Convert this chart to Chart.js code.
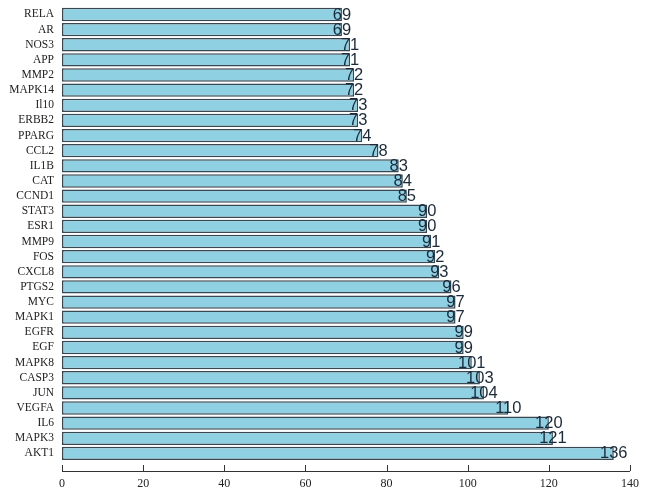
<!DOCTYPE html>
<html>
<head>
    <title>Gene Degree</title>
    <script src="https://cdn.jsdelivr.net/npm/chart.js"></script>
    <style>
        body { margin: 0; background: #fff; }
        #wrap { width: 646px; height: 498px; }
    </style>
</head>
<body>
    <div id="wrap"><canvas id="degreeChart"></canvas></div>
    <script>
        // genes, top to bottom as in the figure
        const genes = ['RELA', 'AR', 'NOS3', 'APP', 'MMP2', 'MAPK14', 'Il10', 'ERBB2', 'PPARG', 'CCL2',
            'IL1B', 'CAT', 'CCND1', 'STAT3', 'ESR1', 'MMP9', 'FOS', 'CXCL8', 'PTGS2', 'MYC',
            'MAPK1', 'EGFR', 'EGF', 'MAPK8', 'CASP3', 'JUN', 'VEGFA', 'IL6', 'MAPK3', 'AKT1'];
        const degree = [69, 69, 71, 71, 72, 72, 73, 73, 74, 78,
            83, 84, 85, 90, 90, 91, 92, 93, 96, 97,
            97, 99, 99, 101, 103, 104, 110, 120, 121, 136];
        const xMin = 0;
        const xMax = 140;
        const xStep = 20;

        // value labels centred on the end of each bar
        const valueLabels = {
            id: 'valueLabels',
            afterDatasetsDraw(chart) {
                const ctx = chart.ctx;
                const meta = chart.getDatasetMeta(0);
                ctx.save();
                ctx.font = '16.5px "Liberation Sans", Arial, sans-serif';
                ctx.fillStyle = '#1b2a38';
                ctx.textAlign = 'center';
                ctx.textBaseline = 'middle';
                meta.data.forEach((bar, i) => {
                    ctx.fillText(String(degree[i]), bar.x, bar.y + 0.5);
                });
                ctx.restore();
            }
        };

        // x axis line sits a little below the bars, ticks pointing up
        const axisLine = {
            id: 'axisLine',
            afterDraw(chart) {
                const ctx = chart.ctx;
                const area = chart.chartArea;
                const x = chart.scales.x;
                const y = area.bottom + 10;
                ctx.save();
                ctx.strokeStyle = '#333';
                ctx.lineWidth = 1;
                ctx.beginPath();
                ctx.moveTo(area.left, y + 0.5);
                ctx.lineTo(area.right, y + 0.5);
                x.ticks.forEach(t => {
                    const px = Math.round(x.getPixelForValue(t.value)) + 0.5;
                    ctx.moveTo(px, y);
                    ctx.lineTo(px, y - 6);
                });
                ctx.stroke();
                ctx.restore();
            }
        };

        const ctx = document.getElementById('degreeChart').getContext('2d');
        const myChart = new Chart(ctx, {
            type: 'bar',
            data: {
                labels: genes,
                datasets: [{
                    data: degree,
                    backgroundColor: '#8fd0e3',
                    borderColor: '#3a4650',
                    borderWidth: 1.5,
                    borderSkipped: false,
                    barPercentage: 0.88,
                    categoryPercentage: 1.0
                }]
            },
            options: {
                indexAxis: 'y',
                responsive: true,
                maintainAspectRatio: false,
                animation: false,
                layout: { padding: { top: 0, right: 16, left: 0, bottom: 0 } },
                plugins: {
                    legend: { display: false },
                    tooltip: { enabled: false }
                },
                scales: {
                    x: {
                        min: xMin,
                        max: xMax,
                        grid: { display: false, drawTicks: true, tickLength: 13 },
                        border: { display: false },
                        ticks: {
                            stepSize: xStep,
                            padding: 3,
                            color: '#222',
                            font: { family: '"Liberation Serif", "Times New Roman", serif', size: 12 }
                        },
                        afterFit(scale) { scale.height = 37; }
                    },
                    y: {
                        grid: { display: false, drawTicks: true, tickLength: 8 },
                        border: { display: false },
                        ticks: {
                            autoSkip: false,
                            padding: 0,
                            color: '#222',
                            font: { family: '"Liberation Serif", "Times New Roman", serif', size: 11.5 }
                        },
                        afterFit(scale) { scale.width = 62; }
                    }
                }
            },
            plugins: [valueLabels, axisLine]
        });
    </script>
</body>
</html>
